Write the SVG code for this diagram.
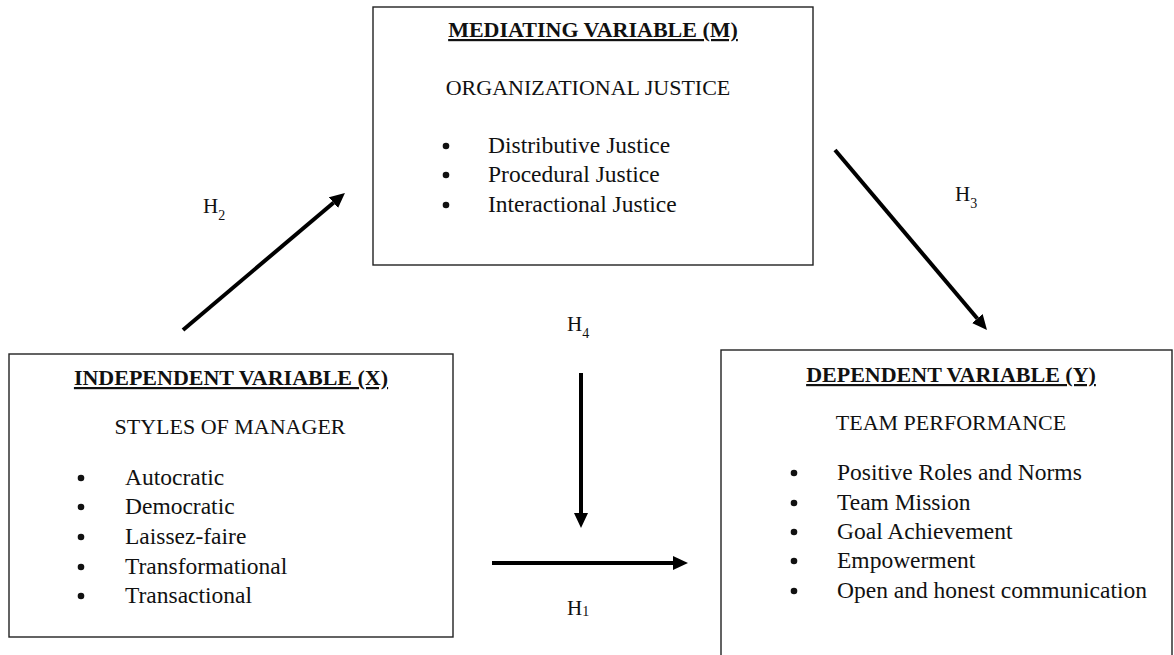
<svg xmlns="http://www.w3.org/2000/svg" width="1174" height="655" viewBox="0 0 1174 655">
<style>
.box{fill:#fff;stroke:#222;stroke-width:1.4}
text{font-family:"Liberation Serif","Times New Roman",serif;fill:#111}
.title{font-size:22px;font-weight:bold;text-anchor:middle;text-decoration:underline}
.sub{font-size:22px;text-anchor:middle}
.item{font-size:23.5px}
.hl{font-size:21px}
.hs{font-size:14px}
.dot{fill:#111}
.arrow{stroke:#000;stroke-width:4;fill:none;marker-end:url(#head)}
</style>
<defs>
<marker id="head" viewBox="0 0 15 14" refX="0" refY="7" markerWidth="15" markerHeight="14" markerUnits="userSpaceOnUse" orient="auto">
<path d="M0,0 L15,7 L0,14 z" fill="#000"/>
</marker>
</defs>
<rect width="1174" height="655" fill="#fff"/>

<g id="mediating">
<rect class="box" x="373" y="7" width="440" height="258"/>
<text class="title" x="593" y="37">MEDIATING VARIABLE (M)</text>
<text class="sub" x="588" y="95">ORGANIZATIONAL JUSTICE</text>
<circle class="dot" cx="446" cy="146" r="3.3"/>
<circle class="dot" cx="446" cy="175" r="3.3"/>
<circle class="dot" cx="446" cy="205" r="3.3"/>
<text class="item" x="488" y="153">Distributive Justice</text>
<text class="item" x="488" y="182">Procedural Justice</text>
<text class="item" x="488" y="212">Interactional Justice</text>
</g>

<g id="independent">
<rect class="box" x="9" y="354" width="444" height="283"/>
<text class="title" x="231" y="385">INDEPENDENT VARIABLE (X)</text>
<text class="sub" x="230" y="434">STYLES OF MANAGER</text>
<circle class="dot" cx="81" cy="478" r="3.3"/>
<circle class="dot" cx="81" cy="507" r="3.3"/>
<circle class="dot" cx="81" cy="537" r="3.3"/>
<circle class="dot" cx="81" cy="567" r="3.3"/>
<circle class="dot" cx="81" cy="596" r="3.3"/>
<text class="item" x="125" y="485">Autocratic</text>
<text class="item" x="125" y="514">Democratic</text>
<text class="item" x="125" y="544">Laissez-faire</text>
<text class="item" x="125" y="574">Transformational</text>
<text class="item" x="125" y="603">Transactional</text>
</g>

<g id="dependent">
<rect class="box" x="721" y="350" width="451" height="320"/>
<text class="title" x="951" y="382">DEPENDENT VARIABLE (Y)</text>
<text class="sub" x="951" y="430">TEAM PERFORMANCE</text>
<circle class="dot" cx="794" cy="473" r="3.3"/>
<circle class="dot" cx="794" cy="503" r="3.3"/>
<circle class="dot" cx="794" cy="532" r="3.3"/>
<circle class="dot" cx="794" cy="561" r="3.3"/>
<circle class="dot" cx="794" cy="591" r="3.3"/>
<text class="item" x="837" y="480">Positive Roles and Norms</text>
<text class="item" x="837" y="510">Team Mission</text>
<text class="item" x="837" y="539">Goal Achievement</text>
<text class="item" x="837" y="568">Empowerment</text>
<text class="item" x="837" y="598">Open and honest communication</text>
</g>

<g id="connectors">
<line class="arrow" x1="183" y1="330" x2="333.5" y2="202.7"/>
<line class="arrow" x1="835" y1="150" x2="977.3" y2="318.5"/>
<line class="arrow" x1="581" y1="373" x2="581" y2="513"/>
<line class="arrow" x1="492" y1="563" x2="673" y2="563"/>
</g>

<g id="labels">
<text x="203" y="213"><tspan class="hl">H</tspan><tspan class="hs" dy="7">2</tspan></text>
<text x="955" y="201"><tspan class="hl">H</tspan><tspan class="hs" dy="7">3</tspan></text>
<text x="567" y="331"><tspan class="hl">H</tspan><tspan class="hs" dy="7">4</tspan></text>
<text x="567" y="615"><tspan class="hl">H</tspan><tspan class="hs" dy="1">1</tspan></text>
</g>
</svg>
